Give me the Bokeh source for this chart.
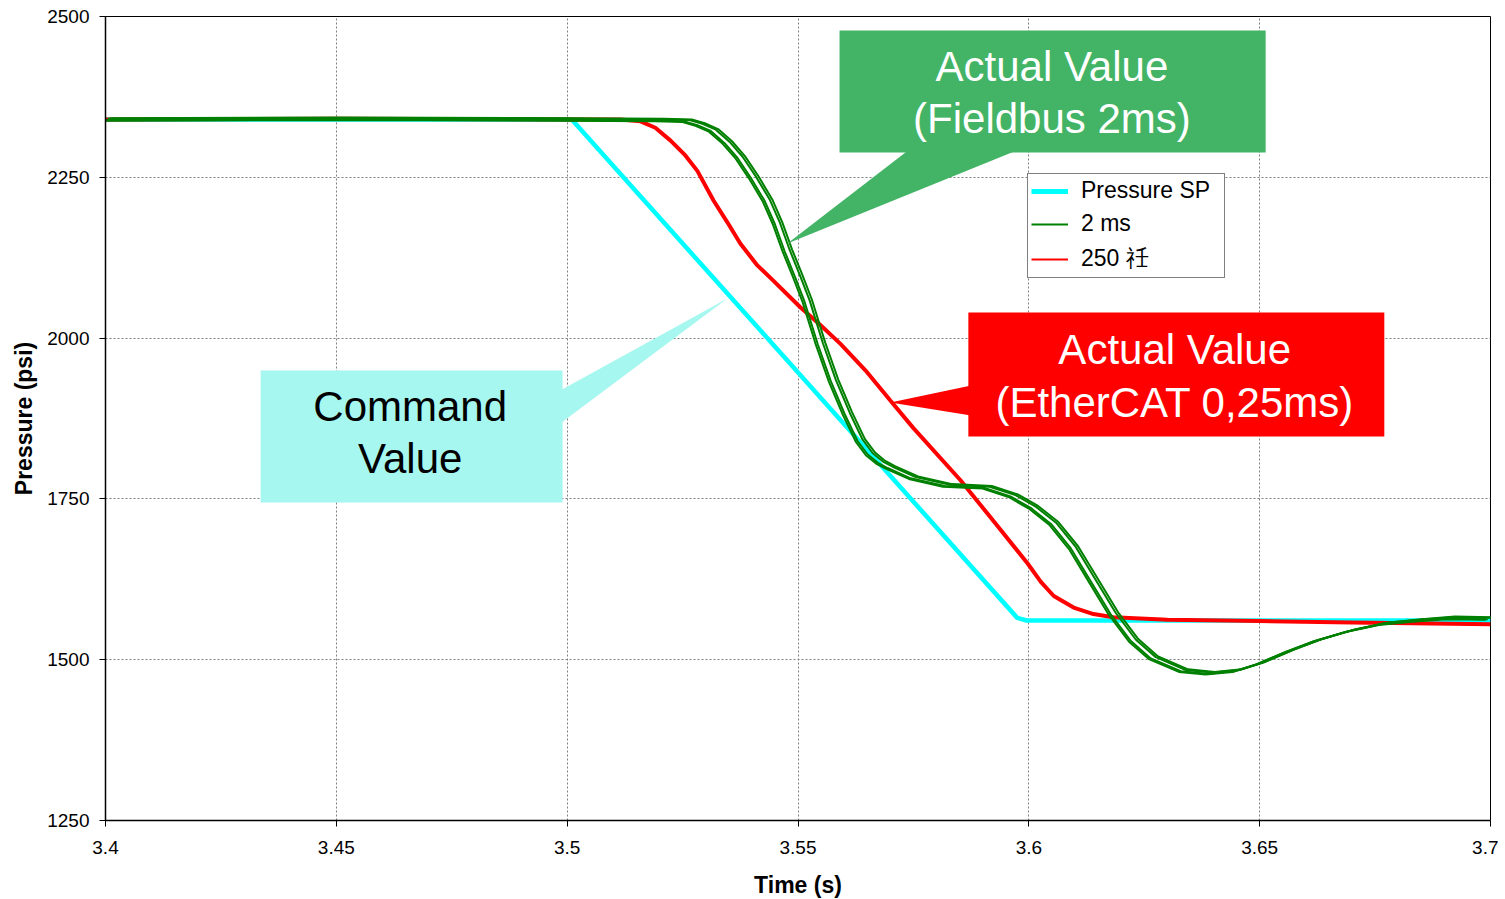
from bokeh.plotting import figure
from bokeh.models import Range1d, FixedTicker, Legend, LegendItem
from bokeh.core.properties import value
from bokeh.embed import file_html
from bokeh.resources import INLINE

FONT = "Liberation Sans"
NAN = float("nan")

# ---------------- data ----------------
sp_time = [3.400, 3.501, 3.5975, 3.5995, 3.700]
sp_psi = [2340, 2340, 1565, 1561, 1561]

red_time = [3.400, 3.450, 3.500, 3.5115, 3.5159, 3.5191, 3.5224, 3.5256, 3.5282, 3.5317,
            3.5347, 3.5375, 3.5412, 3.5447, 3.5505, 3.5549, 3.5592, 3.5646, 3.570, 3.575,
            3.5852, 3.5923, 3.5997, 3.6026, 3.6054, 3.6097, 3.6140, 3.6183, 3.630, 3.650,
            3.670, 3.700]
red_psi = [2340, 2341, 2340, 2340, 2337, 2327, 2307, 2284, 2260, 2214,
           2180, 2147, 2113, 2089, 2048, 2020, 1991, 1950, 1903, 1860,
           1779, 1716, 1650, 1621, 1599, 1581, 1571, 1566, 1562, 1560,
           1558, 1555]

green_time = [3.400, 3.450, 3.500, 3.520, 3.526, 3.5288, 3.5317, 3.5347, 3.5375, 3.5404,
              3.5434, 3.5456, 3.5477, 3.5499, 3.552, 3.5549, 3.5577, 3.5607, 3.5635, 3.5657,
              3.5679, 3.570, 3.575, 3.5824, 3.591, 3.5966, 3.601, 3.6054, 3.6097, 3.614,
              3.6183, 3.6227, 3.627, 3.6335, 3.6393, 3.6451, 3.650, 3.6566, 3.6625, 3.6696,
              3.6768, 3.6841, 3.6913, 3.700]
green_psi = [2340, 2341, 2340, 2339, 2338, 2332, 2323, 2304, 2281, 2250,
             2214, 2178, 2136, 2097, 2058, 1991, 1934, 1883, 1841, 1820,
             1807, 1799, 1783, 1771, 1768, 1755, 1737, 1712, 1674, 1623,
             1572, 1530, 1503, 1483, 1479, 1483, 1494, 1514, 1530, 1545,
             1556, 1561, 1565, 1564]
# several repeated 2 ms runs, slightly offset from each other
green_run_dt = [-0.0010, -0.0006, 0.0005, 0.0010]
green_run_dp = [-2, -1, 1, 2]

x_ticks = [3.4, 3.45, 3.5, 3.55, 3.6, 3.65, 3.7]
x_tick_labels = ["3.4", "3.45", "3.5", "3.55", "3.6", "3.65", "3.7"]
y_ticks = [1250, 1500, 1750, 2000, 2250, 2500]

legend_labels = ["Pressure SP", "2 ms", "250 祍"]

# ---------------- figure ----------------
p = figure(frame_width=1385, frame_height=804,
           min_border_left=105, min_border_right=8, min_border_top=16, min_border_bottom=75,
           x_range=Range1d(3.4, 3.7), y_range=Range1d(1250, 2500),
           output_backend="svg", toolbar_location=None,
           background_fill_color="white", border_fill_color="white")
p.outline_line_color = "black"
p.outline_line_width = 1

for ax in (p.xaxis[0], p.yaxis[0]):
    ax.axis_line_color = "black"
    ax.axis_line_width = 1.5
    ax.major_tick_line_color = "black"
    ax.major_tick_out = 6
    ax.major_tick_in = 0
    ax.minor_tick_line_color = None
    ax.major_label_text_font = FONT
    ax.major_label_text_font_size = "19px"
    ax.major_label_text_color = "black"
    ax.axis_label_text_font = FONT
    ax.axis_label_text_font_size = "23px"
    ax.axis_label_text_font_style = "bold"
    ax.axis_label_text_color = "black"

p.xaxis.ticker = FixedTicker(ticks=x_ticks)
p.xaxis.major_label_overrides = dict(zip(x_ticks, x_tick_labels))
p.yaxis.ticker = FixedTicker(ticks=y_ticks)
p.xaxis.axis_label = "Time (s)"
p.yaxis.axis_label = "Pressure (psi)"
p.xaxis.major_label_standoff = 14
p.yaxis.major_label_standoff = 10
p.xaxis.axis_label_standoff = 15
p.yaxis.axis_label_standoff = 7

for g in (p.xgrid[0], p.ygrid[0]):
    g.grid_line_color = "#7f7f7f"
    g.grid_line_width = 1
    g.grid_line_dash = "2 2"

# ---------------- series ----------------
p.line(sp_time, sp_psi, line_color="#00ffff", line_width=4.5)
p.line(red_time, red_psi, line_color="#ff0000", line_width=4)
for dt, dp in zip(green_run_dt, green_run_dp):
    p.line([t + dt for t in green_time], [v + dp for v in green_psi],
           line_color="#008000", line_width=2)

# ---------------- callouts ----------------
# green: Actual Value (Fieldbus 2ms)
p.patch([3.5739, 3.5975, 3.5477], [2292, 2292, 2147.1], fill_color="#43b466", line_color=None)
p.quad(left=[3.5590], right=[3.6513], top=[2478.2], bottom=[2288.6],
       fill_color="#43b466", line_color=None)
p.text(x=[3.6050, 3.6050], y=[2422.3, 2341.4], text=["Actual Value", "(Fieldbus 2ms)"],
       text_color="white", text_font=value(FONT), text_font_size="42px",
       text_align="center", text_baseline="middle")

# cyan: Command Value
p.patch([3.4985, 3.4985, 3.5347], [1918.5, 1867.2, 2061.6], fill_color="#a6f7f0", line_color=None)
p.quad(left=[3.4336], right=[3.4990], top=[1949.6], bottom=[1744.4],
       fill_color="#a6f7f0", line_color=None)
p.text(x=[3.4660, 3.4660], y=[1893.7, 1812.8], text=["Command", "Value"],
       text_color="black", text_font=value(FONT), text_font_size="42px",
       text_align="center", text_baseline="middle")

# red: Actual Value (EtherCAT 0,25ms)
p.patch([3.5875, 3.5875, 3.5700], [1926.3, 1879.7, 1899.9], fill_color="#ff0000", line_color=None)
p.quad(left=[3.5869], right=[3.6770], top=[2039.8], bottom=[1847.0],
       fill_color="#ff0000", line_color=None)
p.text(x=[3.6316, 3.6316], y=[1982.3, 1899.9], text=["Actual Value", "(EtherCAT 0,25ms)"],
       text_color="white", text_font=value(FONT), text_font_size="42px",
       text_align="center", text_baseline="middle")

# ---------------- legend ----------------
lg_sp = p.line([NAN], [NAN], line_color="#00ffff", line_width=5)
lg_g = p.line([NAN], [NAN], line_color="#008000", line_width=2)
lg_r = p.line([NAN], [NAN], line_color="#ff0000", line_width=2)
legend = Legend(items=[LegendItem(label=legend_labels[0], renderers=[lg_sp]),
                       LegendItem(label=legend_labels[1], renderers=[lg_g]),
                       LegendItem(label=legend_labels[2], renderers=[lg_r])],
                location=(922, 542))
legend.border_line_color = "black"
legend.border_line_width = 1
legend.background_fill_color = "white"
legend.background_fill_alpha = 1
legend.label_text_font = FONT
legend.label_text_font_size = "23px"
legend.label_text_color = "black"
legend.glyph_width = 37
legend.glyph_height = 24
legend.label_height = 24
legend.label_width = 140
legend.label_standoff = 13
legend.spacing = 6
legend.padding = 3
legend.margin = 0
p.add_layout(legend)

open("out.html", "w").write(file_html(p, INLINE))
